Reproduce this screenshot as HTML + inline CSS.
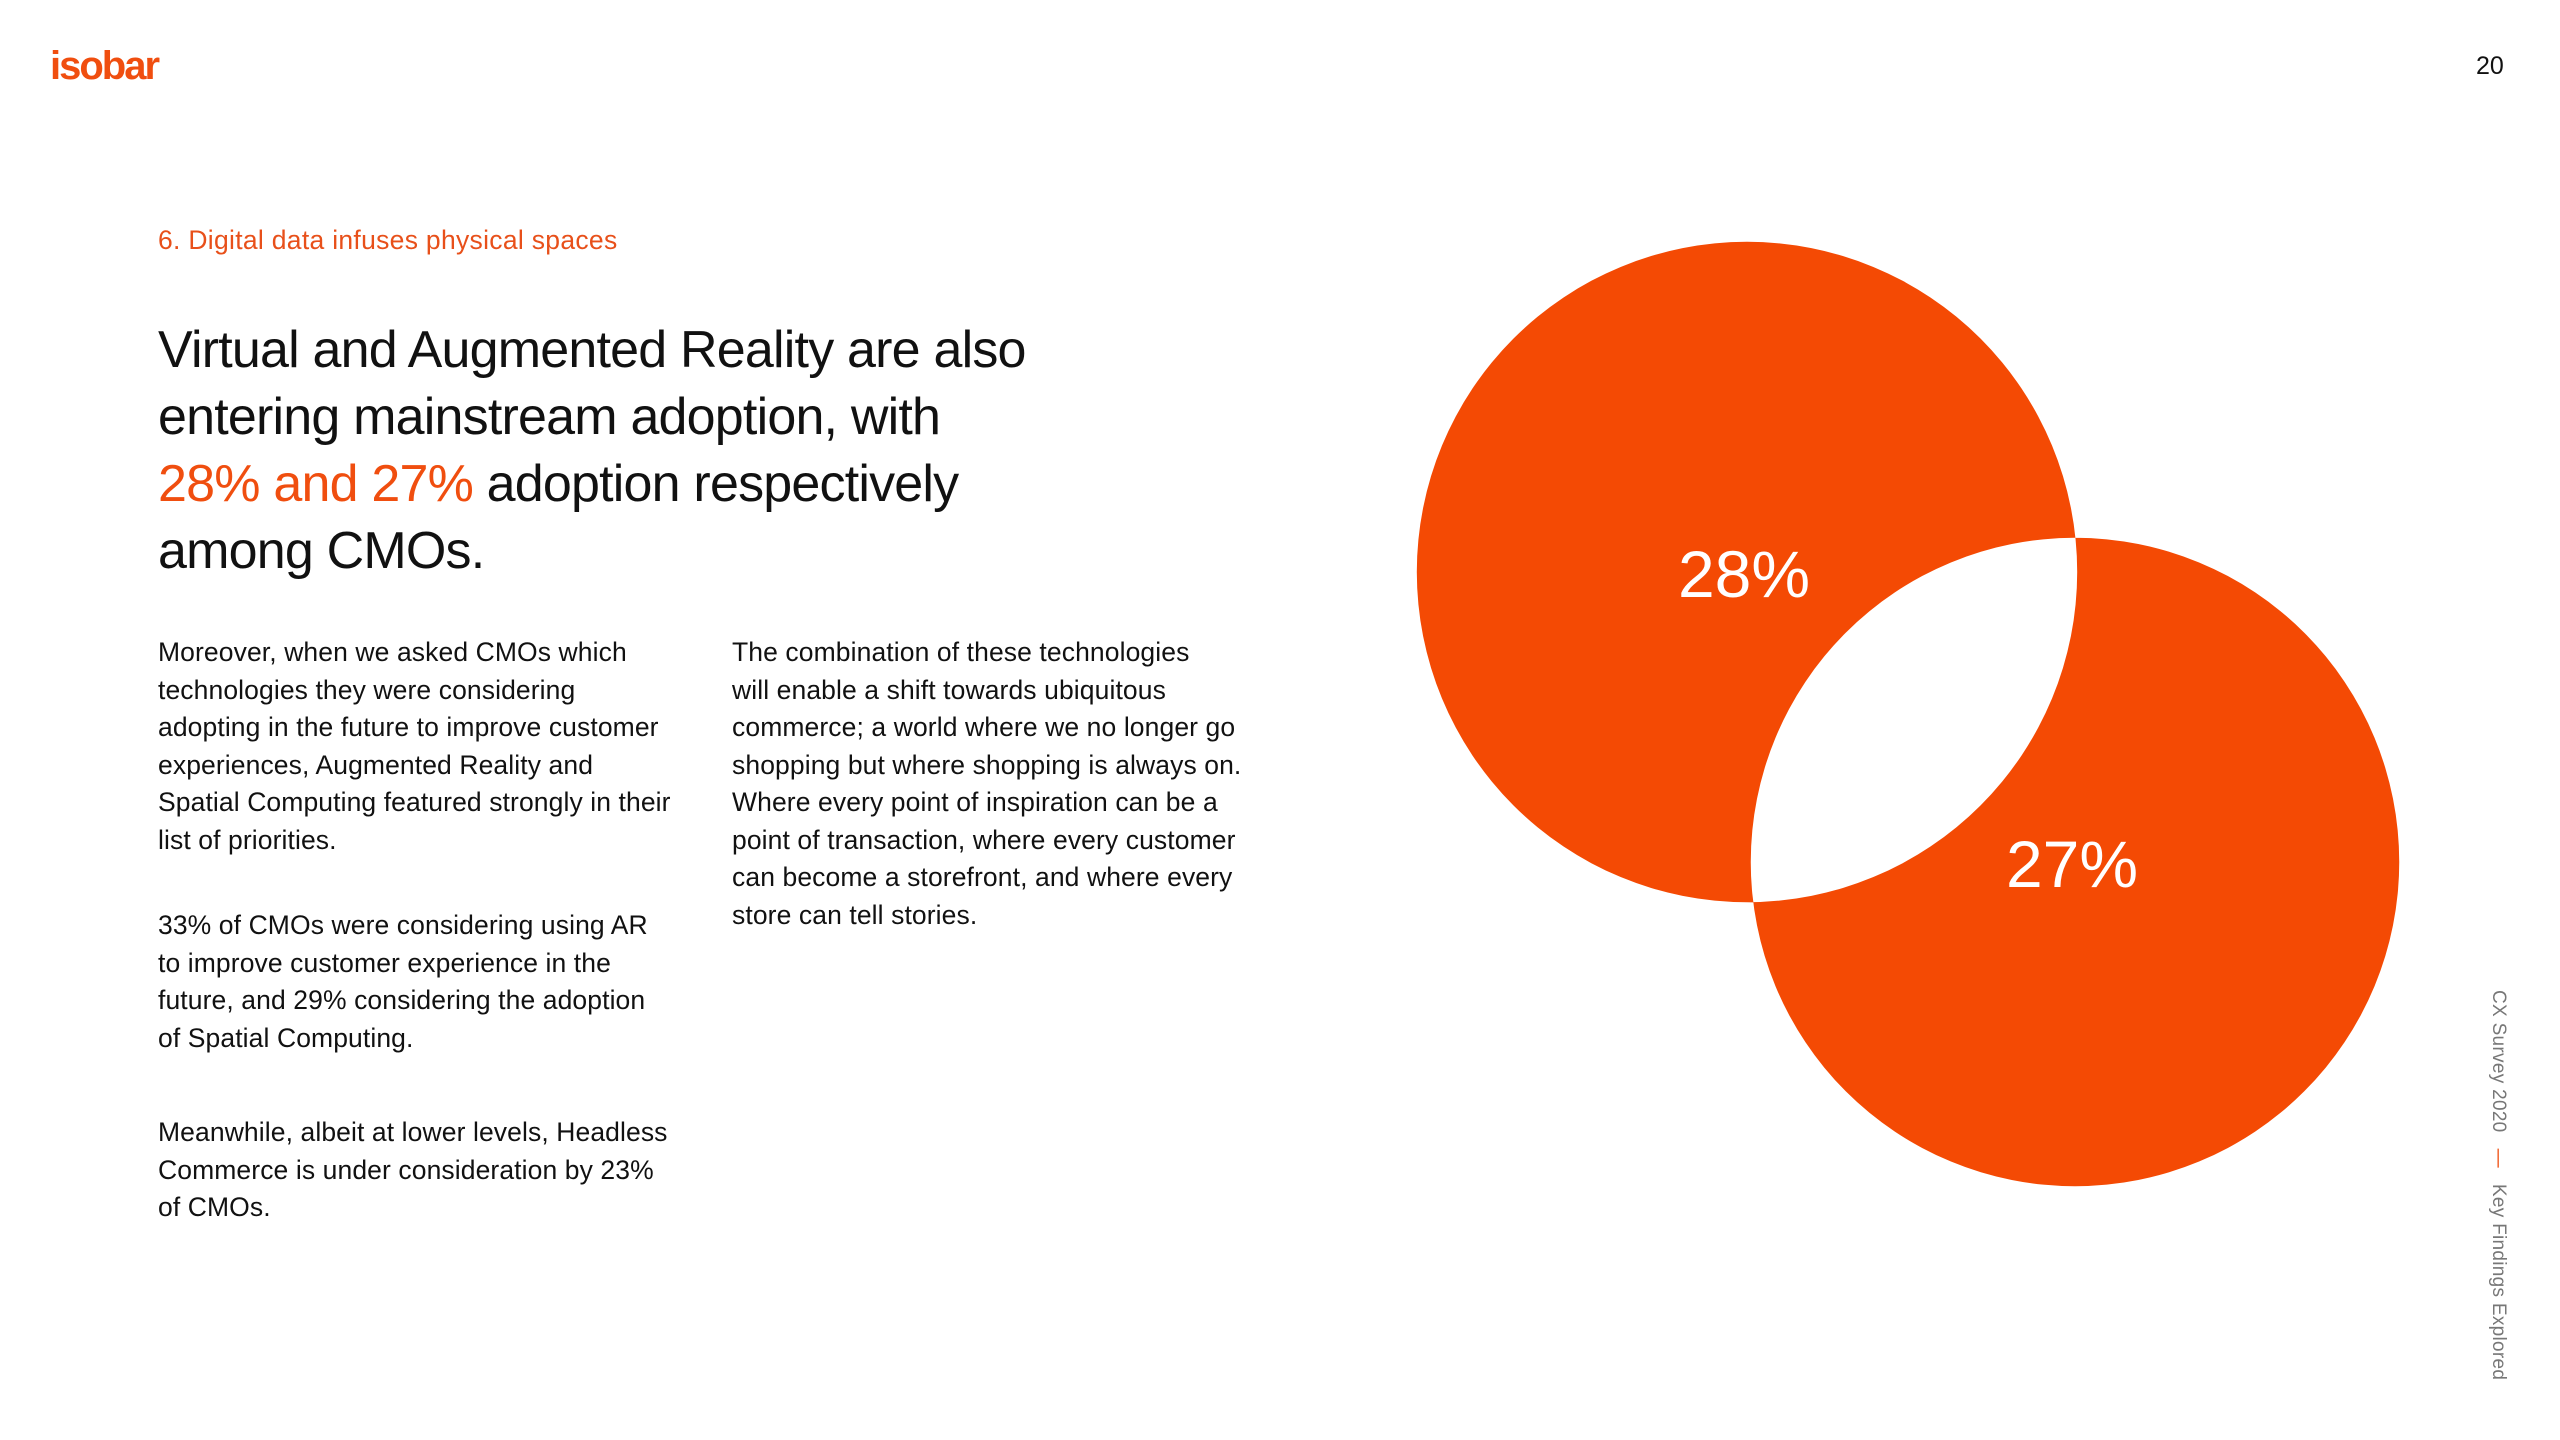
<!DOCTYPE html>
<html><head><meta charset="utf-8"><style>
html,body{margin:0;padding:0;background:#fff;}
body{width:2560px;height:1440px;position:relative;overflow:hidden;font-family:"Liberation Sans",Arial,sans-serif;color:#111;}
.abs{position:absolute;white-space:nowrap;}
.logo{left:50px;top:44px;font-size:40px;font-weight:bold;color:#f04e0f;letter-spacing:-2px;}
.pnum{left:2476px;top:52px;font-size:25px;color:#111;}
.kicker{left:158px;top:225px;font-size:26.5px;color:#e8501a;letter-spacing:0.3px;}
.head{left:158px;top:317px;font-size:52px;line-height:67px;letter-spacing:-0.8px;}
.head .o{color:#f04e0f;}
.body{font-size:26.5px;line-height:37.5px;letter-spacing:0.1px;color:#111;}
.side{left:2497px;top:990px;font-size:19px;color:#777;transform-origin:0 0;transform:translate(12px,0) rotate(90deg);letter-spacing:0.3px;}
.side .d{color:#f04e0f;margin:0 16px;}
</style></head><body>
<div class="abs logo">isobar</div>
<div class="abs pnum">20</div>
<div class="abs kicker">6. Digital data infuses physical spaces</div>
<div class="abs head">Virtual and Augmented Reality are also<br>entering mainstream adoption, with<br><span class="o">28% and 27%</span> adoption respectively<br>among CMOs.</div>
<div class="abs body" style="left:158px;top:634px">Moreover, when we asked CMOs which<br>technologies they were considering<br>adopting in the future to improve customer<br>experiences, Augmented Reality and<br>Spatial Computing featured strongly in their<br>list of priorities.</div>
<div class="abs body" style="left:158px;top:907px">33% of CMOs were considering using AR<br>to improve customer experience in the<br>future, and 29% considering the adoption<br>of Spatial Computing.</div>
<div class="abs body" style="left:158px;top:1114px">Meanwhile, albeit at lower levels, Headless<br>Commerce is under consideration by 23%<br>of CMOs.</div>
<div class="abs body" style="left:732px;top:634px">The combination of these technologies<br>will enable a shift towards ubiquitous<br>commerce; a world where we no longer go<br>shopping but where shopping is always on.<br>Where every point of inspiration can be a<br>point of transaction, where every customer<br>can become a storefront, and where every<br>store can tell stories.</div>
<div class="abs side">CX Survey 2020<span class="d">—</span>Key Findings Explored</div>
<svg id="venn" width="2560" height="1440" style="position:absolute;left:0;top:0"></svg>
<script>
const labels = ["28%", "27%"];
const values = [28, 27];
const series = ["Virtual Reality", "Augmented Reality"];
const svg = document.getElementById('venn');
const NS = 'http://www.w3.org/2000/svg';
function rScale(v){ return 62.4 * Math.sqrt(v); }
function cx(i){ return 1747 + i * 328; }
function cy(i){ return 572 + i * 290; }
let d = '';
values.forEach((v,i)=>{
  const r = rScale(v), x = cx(i), y = cy(i);
  d += `M${x-r},${y} a${r},${r} 0 1,0 ${2*r},0 a${r},${r} 0 1,0 ${-2*r},0 Z `;
});
const p = document.createElementNS(NS,'path');
p.setAttribute('d', d);
p.setAttribute('fill', '#f44a04');
p.setAttribute('fill-rule', 'evenodd');


svg.appendChild(p);
values.forEach((v,i)=>{
  const t = document.createElementNS(NS,'text');
  t.setAttribute('x', cx(i) - 3);
  t.setAttribute('y', cy(i) + 25);
  t.setAttribute('text-anchor', 'middle');
  t.setAttribute('font-family', 'Liberation Sans, Arial, sans-serif');
  t.setAttribute('font-size', '66');
  t.setAttribute('fill', '#fff');
  
  
  t.textContent = labels[i];
  svg.appendChild(t);
});
</script>
</body></html>
